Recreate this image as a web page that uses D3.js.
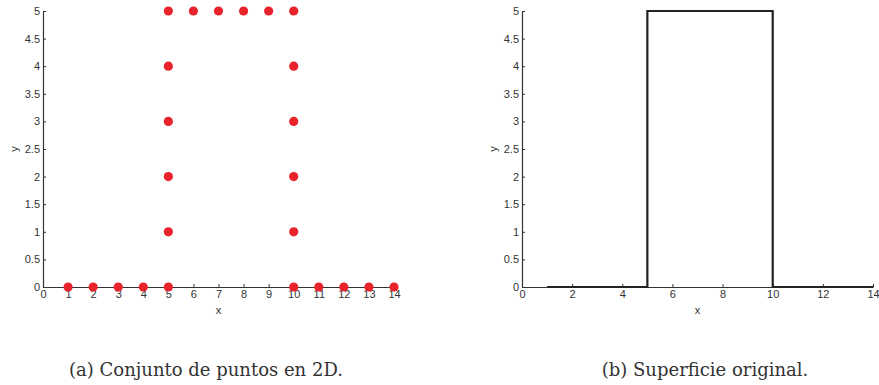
<!DOCTYPE html>
<html>
<head>
<meta charset="utf-8">
<script src="https://cdn.jsdelivr.net/npm/d3@7"></script>
<style>
  body { margin: 0; background: #fff; }
  .axis text, .label { font-family: "Liberation Sans", Arial, sans-serif; font-size: 11px; fill: #333; }
  .axis path, .axis line { stroke: #333; }
  .caption { font-family: "DejaVu Serif", serif; font-size: 18px; fill: #333; }
</style>
</head>
<body>
<svg id="chart" width="879" height="385"></svg>
<script>
// points of the sample, ordered along the outline of the surface
var px = [1, 2, 3, 4, 5, 5, 5, 5, 5, 5, 6, 7, 8, 9, 10, 10, 10, 10, 10, 10, 11, 12, 13, 14];
var py = [0, 0, 0, 0, 0, 1, 2, 3, 4, 5, 5, 5, 5, 5, 5, 4, 3, 2, 1, 0, 0, 0, 0, 0];
var leftTicksX = [0, 1, 2, 3, 4, 5, 6, 7, 8, 9, 10, 11, 12, 13, 14];
var rightTicksX = [0, 2, 4, 6, 8, 10, 12, 14];
var ticksY = [0, 0.5, 1, 1.5, 2, 2.5, 3, 3.5, 4, 4.5, 5];
var captions = ["(a) Conjunto de puntos en 2D.", "(b) Superficie original."];

var data = px.map(function(d, i) { return {x: d, y: py[i]}; });

var svg = d3.select("#chart");
var panels = [
  {left: 43, ticks: leftTicksX, capX: 206},
  {left: 522, ticks: rightTicksX, capX: 705}
];
var plotW = 351, plotTop = 11, plotH = 276;

panels.forEach(function(p, k) {
  var x = d3.scaleLinear().domain([0, 14]).range([0, plotW]);
  var y = d3.scaleLinear().domain([0, 5]).range([plotH, 0]);

  var g = svg.append("g")
      .attr("transform", "translate(" + p.left + "," + plotTop + ")");

  // axes with inward ticks
  g.append("g")
      .attr("class", "axis")
      .attr("transform", "translate(0," + plotH + ")")
      .call(d3.axisBottom(x).tickValues(p.ticks).tickSize(-3).tickSizeOuter(0).tickPadding(3).tickFormat(d3.format("d")))
      .selectAll("text").attr("dy", "0.71em");

  g.append("g")
      .attr("class", "axis")
      .call(d3.axisLeft(y).tickValues(ticksY).tickSize(-3).tickSizeOuter(0).tickPadding(3).tickFormat(function(d) { return d; }));

  g.selectAll(".axis .domain").attr("stroke-width", 1.2);

  if (k == 0) {
    g.selectAll(".dot")
        .data(data)
      .enter().append("circle")
        .attr("class", "dot")
        .attr("r", 4.6)
        .attr("cx", function(d) { return x(d.x); })
        .attr("cy", function(d) { return y(d.y); })
        .attr("fill", "#e8232b");
  } else {
    var line = d3.line()
        .x(function(d) { return x(d.x); })
        .y(function(d) { return y(d.y); });
    g.append("path")
        .datum(data)
        .attr("d", line)
        .attr("fill", "none")
        .attr("stroke", "#222")
        .attr("stroke-width", 2.2);
  }

  // axis labels
  g.append("text")
      .attr("class", "label")
      .attr("x", plotW / 2).attr("y", plotH + 27)
      .attr("text-anchor", "middle")
      .text("x");
  g.append("text")
      .attr("class", "label")
      .attr("transform", "translate(-25," + (plotH / 2) + ") rotate(-90)")
      .attr("text-anchor", "middle")
      .text("y");

  svg.append("text")
      .attr("class", "caption")
      .attr("x", p.capX)
      .attr("y", 376)
      .attr("text-anchor", "middle")
      .text(captions[k]);
});
</script>
</body>
</html>
